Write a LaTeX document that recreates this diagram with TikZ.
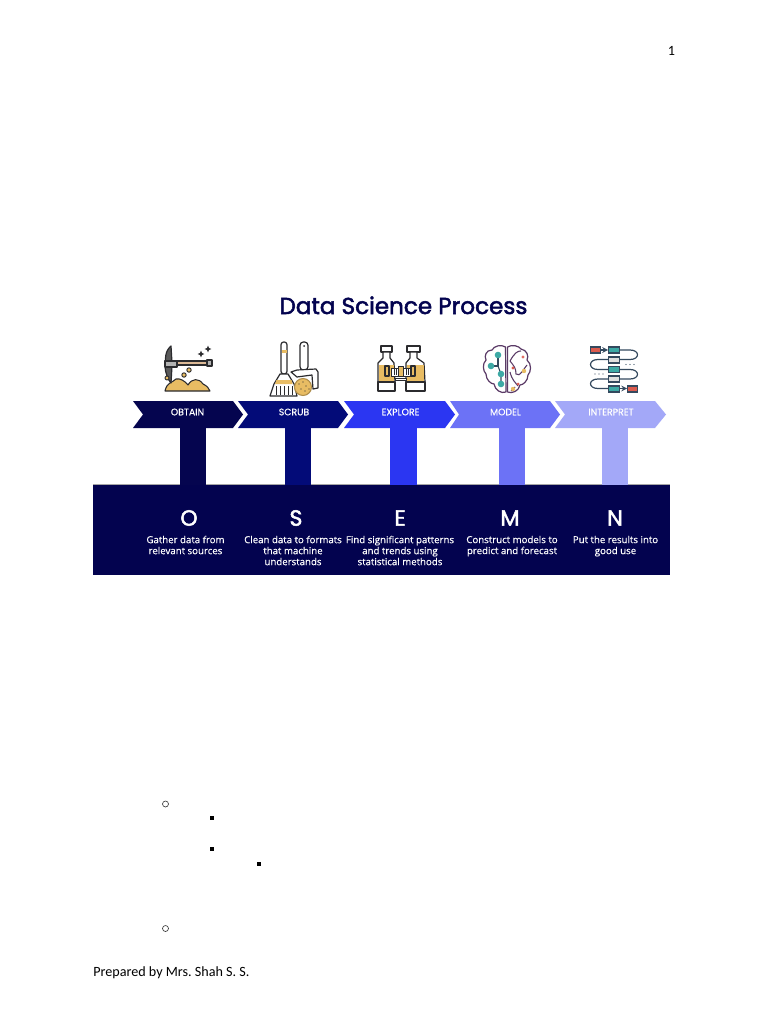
\documentclass[tikz,border=0pt]{standalone}
\usepackage{fontspec}
\setmainfont{Carlito}
\newfontfamily\popfont[FakeBold=2.2]{Poppins}
\newfontfamily\poplight[FakeBold=0.5]{Poppins}
\newfontfamily\capfont[FakeBold=0.3]{Open Sans}
\definecolor{navy}{HTML}{03034F}
\definecolor{cobtain}{HTML}{05054F}
\definecolor{cscrub}{HTML}{030B78}
\definecolor{cexplore}{HTML}{2B36F2}
\definecolor{cmodel}{HTML}{6C72F6}
\definecolor{cinterp}{HTML}{A3A8F8}
\definecolor{gold}{HTML}{E8BC63}
\definecolor{ink}{HTML}{2B2B2E}
\definecolor{tealx}{HTML}{3DA9A5}
\definecolor{redx}{HTML}{DB5B4E}
\definecolor{purp}{HTML}{5A3A66}
\definecolor{slate}{HTML}{34495E}
\tikzset{
 steplabel/.style={text=white,font=\poplight\fontsize{7}{8}\selectfont,inner sep=0pt,anchor=center},
 letter/.style={text=white,font=\popfont\fontsize{16.5}{18}\selectfont,inner sep=0pt,anchor=center},
 capt/.style={text=white,font=\capfont\fontsize{7.25}{8.25}\selectfont,align=center,inner sep=0pt,anchor=north},
 page/.style={text=black,font=\frenchspacing\fontsize{10.6}{12}\selectfont,inner sep=0pt},
 icon/.style={draw=ink,line width=0.9pt,line join=round,line cap=round},
 bulletround/.style={circle,draw=black!75,line width=0.5pt,minimum size=4.5pt,inner sep=0pt},
 bulletsq/.style={rectangle,fill=black,minimum size=3pt,inner sep=0pt},
 flow/.style={draw=slate,line width=0.9pt,line cap=round},
}
\begin{document}
\begin{tikzpicture}[x=0.75pt,y=-0.75pt]
\useasboundingbox (0,0) rectangle (768,1024);
\fill[white] (0,0) rectangle (768,1024);
% page text
\node[page,anchor=center] (pnum) at (671.5,51) {1};
\node[page,anchor=base west] (foot) at (93,976) {Prepared by Mrs. Shah S. S.};
% title
\node[text=navy,font=\popfont\fontsize{17.3}{20}\selectfont,inner sep=0pt,anchor=base] (title) at (403.5,314) {Data Science Process};
% stems and band
\fill[cobtain] (180,425) rectangle (206,486);
\fill[cscrub] (285,425) rectangle (311,486);
\fill[cexplore] (390,425) rectangle (417,486);
\fill[cmodel] (499,425) rectangle (525,486);
\fill[cinterp] (602,425) rectangle (628,486);
\fill[black!35] (93,483.5) rectangle (670,485.5);
\fill[cobtain] (180,483) rectangle (206,486);
\fill[cscrub] (285,483) rectangle (311,486);
\fill[cexplore] (390,483) rectangle (417,486);
\fill[cmodel] (499,483) rectangle (525,486);
\fill[cinterp] (602,483) rectangle (628,486);
\fill[navy] (93,485) rectangle (670,575);
% chevrons
\fill[cobtain] (133,401) -- (233,401) -- (243,414.5) -- (233,428) -- (133,428) -- (143,414.5) -- cycle;
\fill[cscrub] (238,401) -- (338,401) -- (348,414.5) -- (338,428) -- (238,428) -- (248,414.5) -- cycle;
\fill[cexplore] (344,401) -- (445,401) -- (455,414.5) -- (445,428) -- (344,428) -- (354,414.5) -- cycle;
\fill[cmodel] (450,401) -- (550,401) -- (560,414.5) -- (550,428) -- (450,428) -- (459,414.5) -- cycle;
\fill[cinterp] (555,401) -- (655,401) -- (666,414.5) -- (655,428) -- (555,428) -- (565,414.5) -- cycle;
\node[steplabel] (obtain) at (187.5,412) {OBTAIN};
\node[steplabel] (scrub) at (294,412) {SCRUB};
\node[steplabel] (explore) at (400.5,412) {EXPLORE};
\node[steplabel] (model) at (505.5,412) {MODEL};
\node[steplabel] (interpret) at (611,412) {INTERPRET};
% letters and captions
\node[letter] (lo) at (189,518) {O};
\node[letter] (ls) at (296,518) {S};
\node[letter] (le) at (400,518) {E};
\node[letter] (lm) at (510,518) {M};
\node[letter] (ln) at (615,518) {N};
\node[capt] (co) at (185.5,535.5) {Gather data from\\relevant sources};
\node[capt] (cs) at (293,535.5) {Clean data to formats\\that machine\\understands};
\node[capt] (ce) at (400,535.5) {Find significant patterns\\and trends using\\statistical methods};
\node[capt] (cm) at (512,535.5) {Construct models to\\predict and forecast};
\node[capt] (cn) at (615.5,535.5) {Put the results into\\good use};
% pickaxe icon
\fill[gold] (165,391) .. controls (167,382) and (172,383) .. (176,379) .. controls (180,378) and (185,381) .. (188,385) .. controls (192,378) and (199,378) .. (203,384) .. controls (207,386) and (209,388) .. (210,391) -- cycle;
\draw[icon,line width=.8pt] (165,391) .. controls (167,382) and (172,383) .. (176,379) .. controls (180,378) and (185,381) .. (188,385) .. controls (192,378) and (199,378) .. (203,384) .. controls (207,386) and (209,388) .. (210,391) -- cycle;
\fill[gray!70!black] (171,346) .. controls (164,352) and (166,360) .. (165,363) -- (172,363) -- cycle;
\fill[gray!70!black] (165,366) .. controls (165,372) and (168,380) .. (171,383) -- (172,366) -- cycle;
\draw[icon] (171,346) .. controls (164,352) and (166,360) .. (165,363) -- (172,363) -- cycle;
\draw[icon] (165,366) .. controls (165,372) and (168,380) .. (171,383) -- (172,366) -- cycle;
\filldraw[icon,fill=gray!60] (165,361) rectangle (177,367);
\filldraw[icon,fill=brown!55!white] (177,361) rectangle (207,365);
\filldraw[icon,fill=gray!60] (207,360) rectangle (212,366);
\filldraw[icon,fill=gold,line width=.7pt] (167,378) circle (2);
\filldraw[icon,fill=gold,line width=.7pt] (184,375) circle (2.2);
\filldraw[icon,fill=gold,line width=.7pt] (189,370) circle (2.2);
\foreach \cc in {(201,354),(208,349)}{
 \fill[ink] \cc ++(0,-3.4) -- ++(1,2.4) -- ++(2.4,1) -- ++(-2.4,1) -- ++(-1,2.4) -- ++(-1,-2.4) -- ++(-2.4,-1) -- ++(2.4,-1) -- cycle;
}
% broom and dustpan icon
\filldraw[icon,fill=white,rounded corners=2pt] (281,342) rectangle (287,374);
\fill[gold] (281.5,350) rectangle (286.5,353);
\filldraw[icon,fill=white,rounded corners=2.5pt] (300,342) rectangle (308,370);
\fill[ink] (304,346) circle (1);
\filldraw[icon,fill=white] (291,372) -- (297,370) -- (316,369) -- (318,372) -- (318,388) -- (313,389) -- (312,375) -- (297,377) -- cycle;
\filldraw[icon,fill=white] (280,374) -- (288,374) -- (294,384) -- (297,396) -- (270,396) -- (274,384) -- cycle;
\fill[gold] (276.5,380) -- (291.5,380) -- (292.5,384) -- (275,384) -- cycle;
\foreach \xx in {276,280,284,288,292}{\draw[ink,line width=.7pt] (\xx,386)--(\xx,395);}
\filldraw[draw=gold!75!black,line width=.8pt,fill=gold] (303,387) circle (8.5);
\foreach \p in {(299,384),(303,382),(306,386),(301,389),(305,391),(309,389)}{\fill[ink] \p circle (.7);}
% binoculars icon
\filldraw[icon,fill=white] (381,346) rectangle (392,352);
\filldraw[icon,fill=white] (407,346) rectangle (420,352);
\filldraw[icon,fill=white] (383,352) -- (390,352) -- (390,358) -- (394,363) -- (395,382) -- (378,382) -- (378,363) -- (383,358) -- cycle;
\filldraw[icon,fill=white] (410,352) -- (417,352) -- (417,358) -- (424,363) -- (425,382) -- (406,382) -- (406,363) -- (410,358) -- cycle;
\fill[gold] (379,365) rectangle (394,382);
\fill[gold] (407,365) rectangle (424,382);
\filldraw[icon,fill=white] (378,382) rectangle (395,391);
\filldraw[icon,fill=white] (406,382) rectangle (425,391);
\filldraw[icon,fill=gold] (385,366) rectangle (389,376);
\filldraw[icon,fill=gold] (411,366) rectangle (415,376);
\filldraw[icon,fill=white,line width=.7pt] (391,368) rectangle (410,376);
\filldraw[icon,fill=gold,line width=.7pt] (398,366) rectangle (403,376);
\filldraw[icon,fill=white,line width=.7pt] (395,378) rectangle (406,380);
\foreach \xx in {394,396,406,408}{\draw[ink,line width=.6pt] (\xx,369)--(\xx,375);}
% brain icon
\draw[purp,line width=.9pt,line join=round] (505.5,347) .. controls (501,344) and (494,346) .. (492,350) .. controls (486,350) and (484,356) .. (486,360) .. controls (482,364) and (483,371) .. (486,374) .. controls (486,380) and (491,384) .. (494,384) .. controls (495,390) and (501,394) .. (506,392) -- cycle;
\draw[purp,line width=.9pt,line join=round] (507.5,347) .. controls (512,344) and (519,346) .. (521,349) .. controls (527,350) and (529,356) .. (527,360) .. controls (532,364) and (531,372) .. (528,375) .. controls (528,381) and (523,385) .. (520,385) .. controls (519,391) and (512,394) .. (507.5,392) -- cycle;
\draw[purp,line width=.8pt] (510,361) .. controls (515,352) and (518,351) .. (521,351);
\draw[purp,line width=.8pt] (510,361) .. controls (514,366) and (516,368) .. (516,374) .. controls (520,378) and (524,368) .. (527,365);
\draw[purp,line width=.8pt] (510,372) .. controls (512,380) and (515,382) .. (518,386);
\draw[purp,line width=.8pt] (515,387) -- (511,391);
\draw[slate,line width=.8pt] (498,355) -- (498,366) -- (491,366);
\draw[slate,line width=.8pt] (498,366) -- (501,374) -- (501,384);
\foreach \p in {(498,355),(491,366),(501,374),(501,384)}{\fill[tealx] \p circle (3.3);}
\fill[redx!80!pink] (523,357) circle (1.6);
\fill[redx] (513,368) circle (1.7);
\fill[gold] (524,371) circle (2.2);
\fill[redx] (518,384) circle (1.5);
\fill[gold] (513,389) circle (2.2);
% interpret flow icon
\draw[flow,->,>=stealth] (601,350) -- (608,350);
\draw[flow] (620,350) -- (630,350) .. controls (640,350) and (640,359.5) .. (630,359.5) -- (620,359.5);
\draw[flow] (608,359.5) -- (598,359.5) .. controls (588,359.5) and (588,369.5) .. (598,369.5) -- (608,369.5);
\draw[flow] (620,369.5) -- (630,369.5) .. controls (640,369.5) and (640,379) .. (630,379) -- (620,379);
\draw[flow] (608,379) -- (598,379) .. controls (588,379) and (588,388.5) .. (598,388.5) -- (608,388.5);
\draw[flow,->,>=stealth] (620,388.5) -- (627,388.5);
\foreach \xx in {626,630,634}{\fill[slate] (\xx,364.5) circle (.6);}
\foreach \xx in {595,599,603}{\fill[slate] (\xx,374) circle (.6);}
\tikzset{bx/.style={draw=slate,line width=.8pt}}
\filldraw[bx,fill=redx] (590.5,347) rectangle (600.5,353);
\filldraw[bx,fill=tealx] (608.5,347) rectangle (619.5,353);
\filldraw[bx,fill=gray!25] (608.5,357) rectangle (619.5,363);
\filldraw[bx,fill=tealx] (608.5,366.5) rectangle (619.5,372.5);
\filldraw[bx,fill=gray!25] (608.5,376) rectangle (619.5,382);
\filldraw[bx,fill=tealx] (608.5,386) rectangle (619.5,392);
\filldraw[bx,fill=redx] (627.5,386) rectangle (637.5,392);
% list bullets
\node[bulletround] (b1) at (165.5,804) {};
\node[bulletsq] (b2) at (212,818) {};
\node[bulletsq] (b3) at (212,848.5) {};
\node[bulletsq] (b4) at (258.5,864) {};
\node[bulletround] (b5) at (165.5,928.5) {};
\end{tikzpicture}
\end{document}
